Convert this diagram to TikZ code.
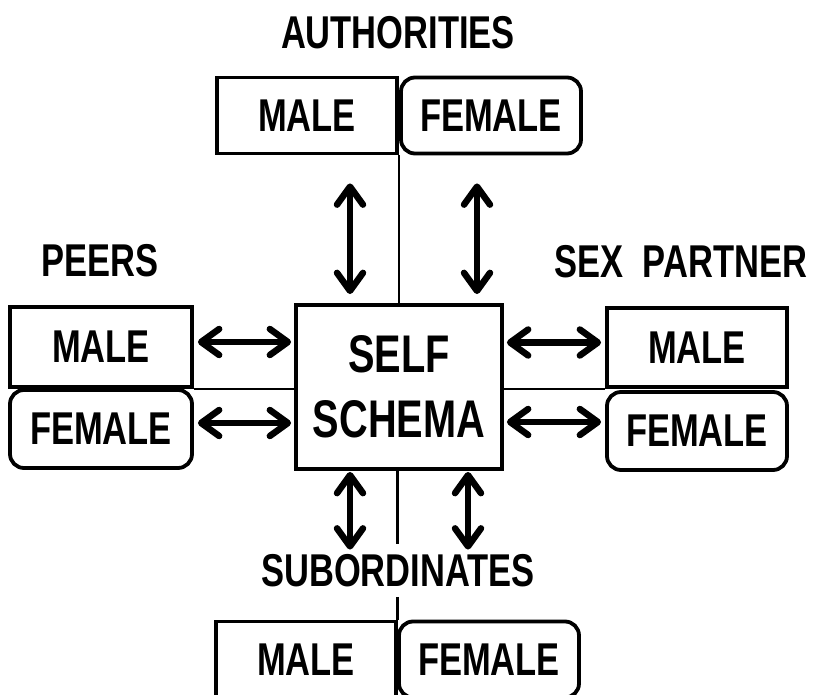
\documentclass[tikz,border=0pt]{standalone}
\usepackage{fontspec}
\setmainfont{Liberation Sans}[FakeStretch=0.75]
\usepackage{tikz}
\tikzset{>=latex}
\usetikzlibrary{arrows.meta}
\usetikzlibrary{calc}

\begin{document}
\begin{tikzpicture}[x=1pt, y=-1pt]
            \tikzset{box/.style={draw, line width=3.8pt, minimum width=180pt, minimum height=76pt, inner sep=0pt, font={\bfseries\fontsize{46}{50}\selectfont}}}
            \tikzset{roundbox/.style={box, rounded corners=14pt}}
            \tikzset{heading/.style={inner sep=0pt, font={\bfseries\fontsize{46}{50}\selectfont}}}
            \tikzset{link/.style={line width=6.5pt, {Straight Barb[length=18pt, width=26pt, round]}-{Straight Barb[length=18pt, width=26pt, round]}}}
            \tikzset{joint/.style={line width=2.6pt}}
            \useasboundingbox (0, 0) rectangle (814, 695);

            \node[box, minimum width=206pt, minimum height=164pt, align=center, font={\bfseries\fontsize{53}{65}\selectfont}] (self) at (399, 387) {SELF\\SCHEMA};

            \node[heading] (auth) at (398, 33) {AUTHORITIES};
            \node[box] (am) at (307, 115.5) {MALE};
            \node[roundbox] (af) at (491, 115.5) {FEMALE};

            \node[heading] (peers) at (100, 261) {PEERS};
            \node[box, minimum width=182pt, minimum height=80pt] (pm) at (101, 347) {MALE};
            \node[roundbox, minimum width=182pt, minimum height=78pt] (pf) at (101, 429) {FEMALE};

            \node[heading] (sex) at (681, 262) {SEX\ \ PARTNER};
            \node[box, minimum height=79pt] (sm) at (697, 347.5) {MALE};
            \node[roundbox, minimum height=78pt] (sf) at (697, 431) {FEMALE};

            \node[heading, inner sep=10pt] (sub) at (398, 570.5) {SUBORDINATES};
            \node[box] (bm) at (306, 659.5) {MALE};
            \node[roundbox] (bf) at (489, 659.5) {FEMALE};

            \coordinate (tj) at ($(am.south east)!0.5!(af.south west)$);
            \coordinate (bj) at ($(bm.north east)!0.5!(bf.north west)$);
            \draw[joint] (tj) -- (tj |- self.north);
            \draw[joint] (pm.south east) -- (pm.south east -| self.west);
            \draw[joint] (self.east |- sm.south west) -- (sm.south west);
            \draw[joint] (bj |- self.south) -- (bj |- sub.north);
            \draw[joint] (bj |- sub.south) -- (bj);

            \draw[link, shorten <=28pt, shorten >=9pt] ([xshift=43pt]am.south) -- ([xshift=43pt]am.south |- self.north);
            \draw[link, shorten <=28pt, shorten >=9pt] ([xshift=-14pt]af.south) -- ([xshift=-14pt]af.south |- self.north);
            \draw[link, shorten <=1pt, shorten >=70pt] ([xshift=44pt]bm.north |- self.south) -- ([xshift=44pt]bm.north);
            \draw[link, shorten <=1pt, shorten >=70pt] ([xshift=-21pt]bf.north |- self.south) -- ([xshift=-21pt]bf.north);
            \draw[link, shorten <=4pt, shorten >=3pt] ([yshift=5pt]pm.east) -- ([yshift=5pt]pm.east -| self.west);
            \draw[link, shorten <=4pt, shorten >=3pt] ([yshift=6pt]pf.east) -- ([yshift=6pt]pf.east -| self.west);
            \draw[link, shorten <=3pt, shorten >=4pt] ([yshift=5pt]sm.west -| self.east) -- ([yshift=5pt]sm.west);
            \draw[link, shorten <=3pt, shorten >=4pt] ([yshift=9pt]sf.west -| self.east) -- ([yshift=9pt]sf.west);
\end{tikzpicture}
\end{document}
